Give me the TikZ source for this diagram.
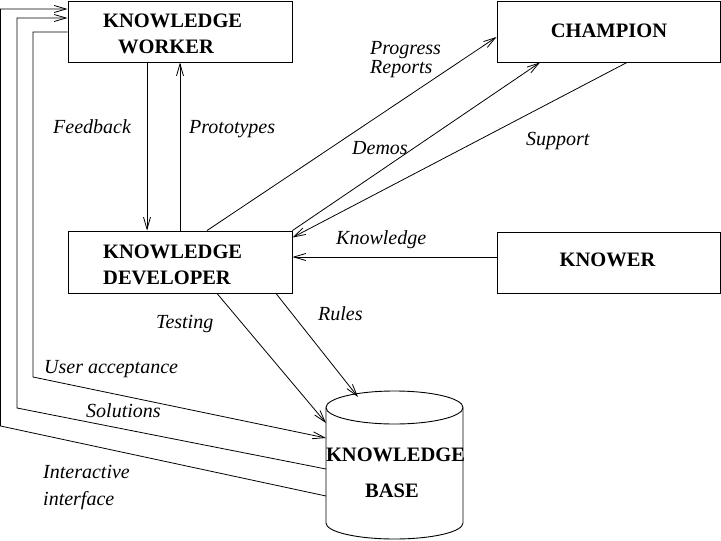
\documentclass[tikz,border=0pt]{standalone}
\usepackage{fontspec}
\setmainfont{Liberation Serif}
\usetikzlibrary{arrows.meta}
\tikzset{
  box/.style={draw, line width=0.9pt, inner sep=0pt},
  arr/.style={line width=0.8pt, -{Straight Barb[length=12pt,width=7pt,line width=0.8pt]}},
  ln/.style={line width=0.8pt},
  bt/.style={inner sep=0pt, anchor=base west, font=\fontsize{20.5}{24}\selectfont\bfseries},
  btc/.style={bt, anchor=base},
  lab/.style={inner sep=0pt, anchor=base west, font=\fontsize{20}{24}\selectfont\itshape},
}
\begin{document}
\begin{tikzpicture}[x=1pt,y=-1pt]
\useasboundingbox (0,0) rectangle (721,541);
% boxes
\node[box, minimum width=224pt, minimum height=61pt] (kw) at (180,31.5) {};
\node[box, minimum width=224pt, minimum height=62pt] (kd) at (180,262) {};
\node[box, minimum width=223pt, minimum height=61pt] (ch) at (608.5,31.5) {};
\node[box, minimum width=223pt, minimum height=61pt] (kn) at (608.5,262.5) {};
% box texts
\node[bt] (kwt1) at (103,27) {KNOWLEDGE};
\node[bt] (kwt2) at (118,53) {WORKER};
\node[bt] (kdt1) at (103,258) {KNOWLEDGE};
\node[bt] (kdt2) at (103,284) {DEVELOPER};
\node[btc] (cht) at (609,37) {CHAMPION};
\node[btc] (knt) at (607.5,266) {KNOWER};
% knowledge base cylinder
\draw[line width=0.9pt] (394.5,407.5) ellipse [x radius=68.5, y radius=16.5];
\draw[line width=0.9pt] (326,407.5) -- (326,523)
  arc[start angle=180, end angle=0, x radius=68.5, y radius=16] -- (463,407.5);
\node[inner sep=0pt, minimum width=137pt, minimum height=115pt] (kb) at (394.5,465) {};
\node[btc] (kbt1) at (395.5,461) {KNOWLEDGE};
\node[btc] (kbt2) at (392,497) {BASE};
% connector end points on the cylinder and bends
\coordinate (kbtest) at (326,423);
\coordinate (kbrules) at (358,397);
\coordinate (kbua) at (326,438);
\coordinate (kbsol) at (326,469);
\coordinate (kbint) at (326,496);
\coordinate (uabend) at (33,377);
\coordinate (solbend) at (17,408);
\coordinate (intbend) at (0.5,426);
% connectors
\draw[arr] ([xshift=-33pt]kw.south) -- ([xshift=-33pt]kd.north);
\draw[arr] (kd.north) -- (kw.south);
\draw[arr] ([xshift=27pt]kd.north) -- ([yshift=-5.5pt]ch.west);
\draw[arr] (kd.north east) -- ([xshift=-68.5pt]ch.south);
\draw[arr] ([xshift=18.5pt]ch.south) -- ([yshift=-7pt]kd.north east);
\draw[arr] ([yshift=5.5pt]kn.west) -- ([yshift=5pt]kd.east);
\draw[arr] ([xshift=37pt]kd.south) -- (kbtest);
\draw[arr] ([xshift=96pt]kd.south) -- (kbrules);
\draw[arr] ([yshift=-0.5pt]kw.west) -| (uabend) -- (kbua);
\draw[arr] (kbsol) -- (solbend) |- ([yshift=13.5pt]kw.west);
\draw[arr] (kbint) -- (intbend) |- ([yshift=22.5pt]kw.west);
% labels
\node[lab] (lfb) at (53,133) {Feedback};
\node[lab] (lpt) at (189,133) {Prototypes};
\node[lab] (lpr1) at (370,54) {Progress};
\node[lab] (lpr2) at (370,73) {Reports};
\node[lab] (ldm) at (352,154) {Demos};
\node[lab] (lsp) at (526,145) {Support};
\node[lab] (lkn) at (336,244) {Knowledge};
\node[lab] (lts) at (156,328) {Testing};
\node[lab] (lrl) at (318,320) {Rules};
\node[lab] (lua) at (44,373) {User acceptance};
\node[lab] (lsl) at (86,417) {Solutions};
\node[lab] (lin1) at (43,478) {Interactive};
\node[lab] (lin2) at (43,505) {interface};
\end{tikzpicture}
\end{document}
